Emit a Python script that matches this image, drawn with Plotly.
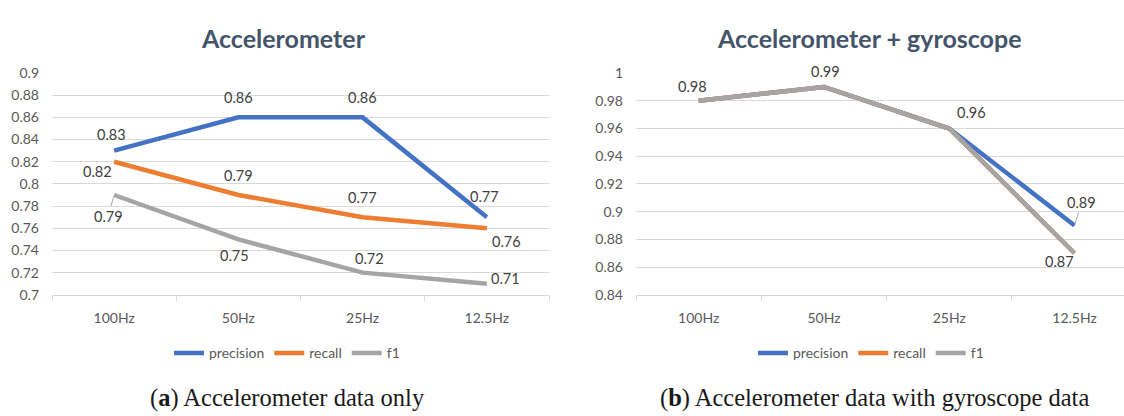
import plotly.graph_objects as go

# ---- data -------------------------------------------------------------
categories = ["100Hz", "50Hz", "25Hz", "12.5Hz"]

acc_precision = [0.83, 0.86, 0.86, 0.77]
acc_recall = [0.82, 0.79, 0.77, 0.76]
acc_f1 = [0.79, 0.75, 0.72, 0.71]

gyro_precision = [0.98, 0.99, 0.96, 0.89]
gyro_recall = [0.98, 0.99, 0.96, 0.87]
gyro_f1 = [0.98, 0.99, 0.96, 0.87]

acc_ticks = [0.7, 0.72, 0.74, 0.76, 0.78, 0.8, 0.82, 0.84, 0.86, 0.88, 0.9]
gyro_ticks = [0.84, 0.86, 0.88, 0.9, 0.92, 0.94, 0.96, 0.98, 1.0]

series_names = ["precision", "recall", "f1"]
chart_titles = ["Accelerometer", "Accelerometer + gyroscope"]
captions = ["(<b>a</b>) Accelerometer data only",
            "(<b>b</b>) Accelerometer data with gyroscope data"]

# ---- styling ----------------------------------------------------------
W, H = 1124, 416
COLORS = ["#4472C4", "#ED7D31", "#A5A5A5"]
GRID = "#D9D9D9"
TICK_COLOR = "#595959"
LABEL_COLOR = "#404040"
TITLE_COLOR = "#44546A"
FONT = "Lato"

def px_x(p):
    return p / W

def px_y(p):
    return 1 - p / H

# label placement per (series index, point index): (dx, dy, leader line)
acc_label_pos = {
    (0, 0): (-3, -16, False), (0, 1): (0, -20, False),
    (0, 2): (0, -20, False), (0, 3): (-2, -21, False),
    (1, 0): (-17, 10, False), (1, 1): (0, -20, False),
    (1, 2): (0, -20, False), (1, 3): (20, 13, False),
    (2, 0): (-6, 21, True), (2, 1): (-4, 16, False),
    (2, 2): (7, -14, False), (2, 3): (19, -5, False),
}
gyro_label_pos = {
    (0, 3): (7, -23, True),
    (2, 0): (-6, -14, False), (2, 1): (2, -15, False),
    (2, 2): (22, -16, False), (2, 3): (-15, 8, False),
}

fig = go.Figure()

panels = [
    dict(series=[acc_precision, acc_recall, acc_f1], xa="x", ya="y",
         legend="legend", labels=acc_label_pos),
    dict(series=[gyro_precision, gyro_recall, gyro_f1], xa="x2", ya="y2",
         legend="legend2", labels=gyro_label_pos),
]

annotations = []
for panel in panels:
    for si, (name, vals) in enumerate(zip(series_names, panel["series"])):
        fig.add_trace(go.Scatter(
            x=categories, y=vals, name=name, mode="lines",
            line=dict(color=COLORS[si], width=4.5),
            xaxis=panel["xa"], yaxis=panel["ya"],
            legend=panel["legend"], hoverinfo="skip",
        ))
    for (si, pi), (dx, dy, leader) in panel["labels"].items():
        val = panel["series"][si][pi]
        ann = dict(x=categories[pi], y=val, xref=panel["xa"], yref=panel["ya"],
                   text=f"{val:.2f}",
                   font=dict(family=FONT, size=14.5, color=LABEL_COLOR))
        if leader:
            ann.update(showarrow=True, ax=dx, ay=dy, arrowhead=0,
                       arrowwidth=1, arrowcolor="#A6A6A6", standoff=2)
        else:
            ann.update(showarrow=False, xshift=dx, yshift=-dy)
        annotations.append(ann)

# chart titles
for title, cx in zip(chart_titles, [283, 869]):
    annotations.append(dict(
        x=px_x(cx), y=px_y(30), xref="paper", yref="paper", showarrow=False,
        text=f"<b>{title}</b>", xanchor="center", yanchor="middle",
        font=dict(family=FONT, size=25, color=TITLE_COLOR)))

# sub-figure captions
for cap, cx in zip(captions, [287, 874]):
    annotations.append(dict(
        x=px_x(cx), y=px_y(406), xref="paper", yref="paper", showarrow=False,
        text=cap, xanchor="center", yanchor="middle",
        font=dict(family="Liberation Serif", size=24.5, color="#1A1A1A")))

tickfont = dict(family=FONT, size=14, color=TICK_COLOR)
xaxis_common = dict(
    type="category", showgrid=False, showline=True, linecolor=GRID,
    linewidth=1, ticks="outside", tickson="boundaries", ticklen=5,
    tickcolor=GRID, tickfont=tickfont, ticklabelstandoff=10, fixedrange=True,
)
yaxis_common = dict(
    showgrid=True, gridcolor=GRID, gridwidth=1, zeroline=False,
    showline=False, ticks="", tickfont=tickfont, ticklabelstandoff=12,
    fixedrange=True,
)

y_dom = [px_y(298), px_y(66.5)]
right_span = (W - 636) / 125.3

legend_common = dict(
    orientation="h", yanchor="middle", xanchor="center",
    font=dict(family=FONT, size=14, color=TICK_COLOR),
    bgcolor="rgba(0,0,0,0)", itemwidth=30, tracegroupgap=0,
)

fig.update_layout(
    width=W, height=H,
    margin=dict(l=0, r=0, t=0, b=0),
    paper_bgcolor="white", plot_bgcolor="white",
    xaxis=dict(domain=[px_x(52), px_x(549)], range=[-0.5, 3.5],
               anchor="y", **xaxis_common),
    yaxis=dict(domain=y_dom, range=[0.7, 0.9002], tickvals=acc_ticks,
               anchor="x", **yaxis_common),
    xaxis2=dict(domain=[px_x(636), 1.0], range=[-0.5, -0.5 + right_span],
                anchor="y2", **xaxis_common),
    yaxis2=dict(domain=y_dom, range=[0.84, 1.0002], tickvals=gyro_ticks,
                anchor="x2", **yaxis_common),
    legend=dict(x=px_x(287), y=px_y(359), **legend_common),
    legend2=dict(x=px_x(871), y=px_y(359), **legend_common),
    annotations=annotations,
    showlegend=True,
)

fig.write_html("out.html")
